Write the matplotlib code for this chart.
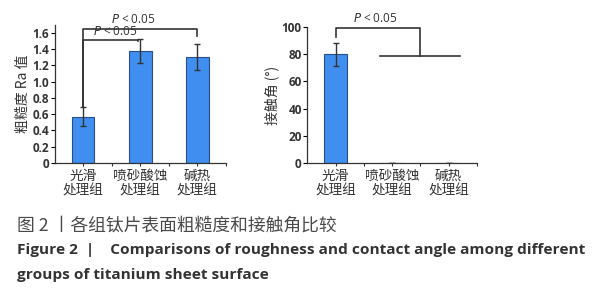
import matplotlib.pyplot as plt
import numpy as np

plt.rcParams['font.family'] = ['Open Sans', 'Noto Sans CJK SC', 'DejaVu Sans']

# data
groups = ["光滑\n处理组", "喷砂酸蚀\n处理组", "碱热\n处理组"]
roughness = [0.57, 1.38, 1.30]
roughness_err = [0.12, 0.15, 0.16]
contact_angle = [80, 0, 0]
contact_angle_err = [8.5, 0, 0]

bar_color = "#3f8ef0"
edge_color = "#2a4f86"
line_color = "#333333"
text_color = "#333333"

fig = plt.figure(figsize=(6, 3), dpi=100)
x = np.arange(len(groups))


def style_axes(ax, ylabel):
    ax.set_xlim(-0.5, 2.5)
    ax.set_xticks(x)
    ax.set_xticks([0.5, 1.5, 2.5], minor=True)
    ax.set_xticklabels(groups, family=['Noto Sans CJK SC'], fontsize=9.8,
                       linespacing=1.0, color=text_color)
    ax.tick_params(axis='x', which='both', length=2.5, width=0.8, pad=2, colors=line_color)
    ax.tick_params(axis='y', length=3, width=0.8, pad=1, labelsize=8.5, labelcolor=text_color)
    for t in ax.get_yticklabels():
        t.set_fontweight('bold')
    for s in ['top', 'right']:
        ax.spines[s].set_visible(False)
    for s in ['left', 'bottom']:
        ax.spines[s].set_linewidth(0.9)
        ax.spines[s].set_color(line_color)
    ax.set_ylabel(ylabel, family=['Noto Sans CJK SC', 'DejaVu Sans'], fontsize=10,
                  color=text_color, labelpad=2)


# left panel: roughness
ax1 = fig.add_axes([0.091, 0.457, 0.285, 0.46])
ax1.bar(x, roughness, width=0.4, color=bar_color, edgecolor=edge_color, linewidth=0.8,
        yerr=roughness_err, capsize=2, error_kw={'ecolor': line_color, 'elinewidth': 1.0})
ax1.set_ylim(0, 1.7)
ax1.set_yticks(np.arange(0, 1.61, 0.2))
ax1.set_yticklabels(["0", "0.2", "0.4", "0.6", "0.8", "1.0", "1.2", "1.4", "1.6"])
style_axes(ax1, "粗糙度 Ra 值")

# significance brackets
ax1.plot([0, 0, 2, 2], [0.69, 1.65, 1.65, 1.56], color=line_color, lw=1.2, clip_on=False)
ax1.plot([0, 0, 0.97, 0.97], [0.69, 1.52, 1.52, 1.50], color=line_color, lw=1.2, clip_on=False)
ax1.text(0.88, 1.69, "$P$ < 0.05", ha='center', va='bottom', fontsize=8.5,
         color=text_color, clip_on=False)
ax1.text(0.56, 1.54, "$P$ < 0.05", ha='center', va='bottom', fontsize=8.5,
         color=text_color, clip_on=False)

# right panel: contact angle
ax2 = fig.add_axes([0.512, 0.457, 0.283, 0.453])
ax2.bar(x, contact_angle, width=0.4, color=bar_color, edgecolor=edge_color, linewidth=0.8,
        yerr=contact_angle_err, capsize=2, error_kw={'ecolor': line_color, 'elinewidth': 1.0})
ax2.set_ylim(0, 100)
ax2.set_yticks(np.arange(0, 101, 20))
style_axes(ax2, "接触角 (°)")

ax2.plot([0, 0, 1.5, 1.5], [93, 99.5, 99.5, 79], color=line_color, lw=1.2, clip_on=False)
ax2.plot([0.78, 2.2], [79, 79], color=line_color, lw=1.2, clip_on=False)
ax2.text(0.71, 101.5, "$P$ < 0.05", ha='center', va='bottom', fontsize=8.5,
         color=text_color, clip_on=False)

# caption
fig.text(0.028, 0.247, "图 2 丨各组钛片表面粗糙度和接触角比较", family=['Noto Sans CJK SC'],
         fontsize=12.8, fontweight='medium', color="#4a4a4a", va='center')
fig.text(0.028, 0.167, "Figure 2  |    Comparisons of roughness and contact angle among different",
         fontsize=11.1, fontweight='bold', color="#333333", va='center')
fig.text(0.028, 0.083, "groups of titanium sheet surface",
         fontsize=11.1, fontweight='bold', color="#333333", va='center')

fig.savefig("out.png", dpi=100)
